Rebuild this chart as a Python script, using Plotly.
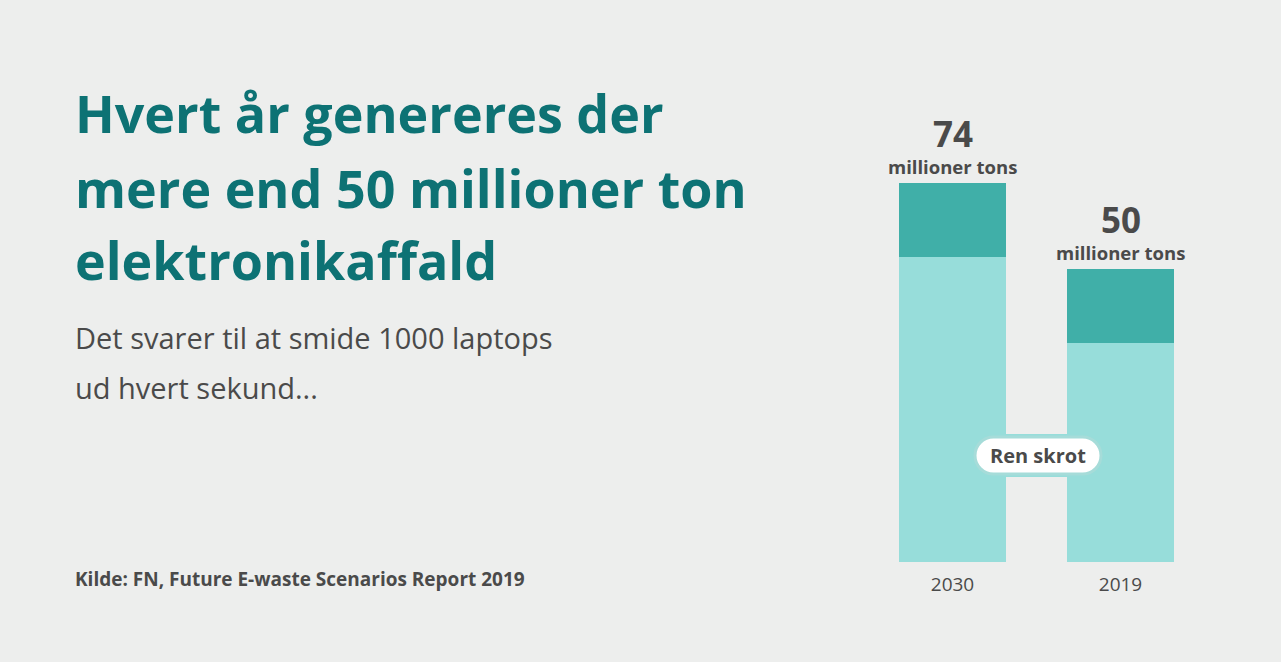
import plotly.graph_objects as go

# ---- data ----
years = ["2030", "2019"]
scrap_values = [59.6, 42.8]      # light part ("Ren skrot")
other_values = [14.4, 14.4]      # dark top part
total_labels = ["74", "50"]
unit_label = "millioner tons"

title_lines = ["Hvert år genereres der", "mere end 50 millioner ton", "elektronikaffald"]
subtitle_lines = ["Det svarer til at smide 1000 laptops", "ud hvert sekund..."]
source_text = "Kilde: FN, Future E-waste Scenarios Report 2019"
pill_text = "Ren skrot"

# ---- style ----
W, H = 1281, 662
BG = "#EDEEED"
LIGHT = "#97DDDA"
DARK = "#40AFA8"
TITLE_C = "#0D7274"
TEXT_C = "#4A4A4A"
FONT = "Open Sans"
BAR_W = 0.637

xpos = list(range(len(years)))
totals = [a + b for a, b in zip(scrap_values, other_values)]

fig = go.Figure()
fig.add_trace(go.Bar(x=xpos, y=scrap_values, width=BAR_W, marker=dict(color=LIGHT, line=dict(width=0)),
                     hoverinfo="skip"))
fig.add_trace(go.Bar(x=xpos, y=other_values, width=BAR_W, marker=dict(color=DARK, line=dict(width=0)),
                     hoverinfo="skip"))

def py(p):
    return 1 - p / H

ann = []
for i, (line, yc) in enumerate(zip(title_lines, [112, 187, 259])):
    ann.append(dict(text=f"<b>{line}</b>", x=73 / W, y=py(yc), xref="paper", yref="paper",
                    xanchor="left", yanchor="middle", showarrow=False,
                    font=dict(family=FONT, size=52, color=TITLE_C)))
for line, yc in zip(subtitle_lines, [337, 387]):
    ann.append(dict(text=line, x=73 / W, y=py(yc), xref="paper", yref="paper",
                    xanchor="left", yanchor="middle", showarrow=False,
                    font=dict(family=FONT, size=29, color=TEXT_C)))
ann.append(dict(text=f"<b>{source_text}</b>", x=73 / W, y=py(579), xref="paper", yref="paper",
                xanchor="left", yanchor="middle", showarrow=False,
                font=dict(family=FONT, size=19, color=TEXT_C)))

for x, t, lab in zip(xpos, totals, total_labels):
    ann.append(dict(text=f"<b>{lab}</b>", x=x, y=t, xref="x", yref="y", yshift=50,
                    xanchor="center", yanchor="middle", showarrow=False,
                    font=dict(family=FONT, size=35, color=TEXT_C)))
    ann.append(dict(text=f"<b>{unit_label}</b>", x=x, y=t, xref="x", yref="y", yshift=17,
                    xanchor="center", yanchor="middle", showarrow=False,
                    font=dict(family=FONT, size=18.5, color=TEXT_C)))

pill_x, pill_y = 0.509, 20.8
ann.append(dict(text=f"<b>{pill_text}</b>", x=pill_x, y=pill_y, xref="x", yref="y",
                xanchor="center", yanchor="middle", showarrow=False,
                font=dict(family=FONT, size=20, color=TEXT_C)))

# band between bars behind the pill
shapes = [dict(type="rect", xref="x", yref="y", x0=BAR_W / 2, x1=1 - BAR_W / 2, y0=16.6, y1=25.0,
               fillcolor=LIGHT, line=dict(width=0), layer="above")]
hw, hh = 63, 18.5
r = hh
k = 0.5523 * r
s = hw - r
path = (f"M {-s},{-hh} L {s},{-hh} "
        f"C {s + k},{-hh} {hw},{-k} {hw},0 "
        f"C {hw},{k} {s + k},{hh} {s},{hh} "
        f"L {-s},{hh} "
        f"C {-s - k},{hh} {-hw},{k} {-hw},0 "
        f"C {-hw},{-k} {-s - k},{-hh} {-s},{-hh} Z")
shapes.append(dict(type="path", xref="x", yref="y", xsizemode="pixel", ysizemode="pixel",
                   xanchor=pill_x, yanchor=pill_y, path=path, fillcolor="white",
                   line=dict(color="#A6DCD9", width=3), layer="above"))

fig.update_layout(
    width=W, height=H, margin=dict(l=0, r=0, t=0, b=0),
    paper_bgcolor=BG, plot_bgcolor=BG, barmode="stack", showlegend=False,
    annotations=ann, shapes=shapes, hovermode=False,
    xaxis=dict(domain=[868.5 / W, 1204.5 / W], range=[-0.5, 1.5], tickvals=xpos, ticktext=years,
               showgrid=False, zeroline=False, showline=False, ticks="", ticklabelstandoff=9,
               tickfont=dict(family=FONT, size=19, color=TEXT_C), fixedrange=True),
    yaxis=dict(domain=[py(562), py(50)], range=[0, 100], visible=False, showgrid=False,
               zeroline=False, fixedrange=True),
)

fig.write_html("out.html", config={"displayModeBar": False},
               post_script="document.body.style.margin='0';document.body.style.overflow='hidden';"
                           "document.body.style.background='" + BG + "';")
